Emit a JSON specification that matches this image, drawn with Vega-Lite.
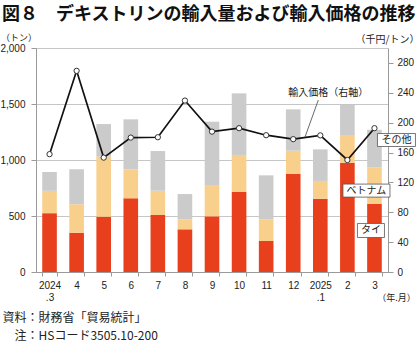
{
  "$schema": "https://vega.github.io/schema/vega-lite/v6.json",
  "width": 352,
  "height": 224,
  "autosize": "none",
  "padding": {"left": 36, "top": 48, "right": 32, "bottom": 75},
  "background": "white",
  "config": {
    "font": "Noto Sans CJK JP",
    "view": {"stroke": null},
    "axis": {
      "domainColor": "#9a9a9a",
      "tickColor": "#9a9a9a",
      "labelColor": "#222222",
      "labelFont": "Liberation Sans",
      "labelFontSize": 10,
      "labelOverlap": false,
      "titleFont": "Noto Sans CJK JP",
      "titleFontWeight": "normal",
      "titleColor": "#222222"
    }
  },
  "title": {
    "text": "図８　デキストリンの輸入量および輸入価格の推移",
    "anchor": "start",
    "frame": "group",
    "font": "Noto Sans CJK JP",
    "fontSize": 18,
    "fontWeight": "bold",
    "color": "#111111",
    "baseline": "bottom",
    "dx": -34,
    "offset": -8
  },
  "datasets": {
    "imports": [
      {"month": "2024.3", "country": "タイ", "k": 1, "tons": 525},
      {"month": "2024.3", "country": "ベトナム", "k": 2, "tons": 200},
      {"month": "2024.3", "country": "その他", "k": 3, "tons": 168},
      {"month": "4", "country": "タイ", "k": 1, "tons": 351},
      {"month": "4", "country": "ベトナム", "k": 2, "tons": 253},
      {"month": "4", "country": "その他", "k": 3, "tons": 313},
      {"month": "5", "country": "タイ", "k": 1, "tons": 494},
      {"month": "5", "country": "ベトナム", "k": 2, "tons": 536},
      {"month": "5", "country": "その他", "k": 3, "tons": 291},
      {"month": "6", "country": "タイ", "k": 1, "tons": 658},
      {"month": "6", "country": "ベトナム", "k": 2, "tons": 259},
      {"month": "6", "country": "その他", "k": 3, "tons": 446},
      {"month": "7", "country": "タイ", "k": 1, "tons": 509},
      {"month": "7", "country": "ベトナム", "k": 2, "tons": 217},
      {"month": "7", "country": "その他", "k": 3, "tons": 354},
      {"month": "8", "country": "タイ", "k": 1, "tons": 381},
      {"month": "8", "country": "ベトナム", "k": 2, "tons": 89},
      {"month": "8", "country": "その他", "k": 3, "tons": 226},
      {"month": "9", "country": "タイ", "k": 1, "tons": 497},
      {"month": "9", "country": "ベトナム", "k": 2, "tons": 280},
      {"month": "9", "country": "その他", "k": 3, "tons": 565},
      {"month": "10", "country": "タイ", "k": 1, "tons": 717},
      {"month": "10", "country": "ベトナム", "k": 2, "tons": 328},
      {"month": "10", "country": "その他", "k": 3, "tons": 550},
      {"month": "11", "country": "タイ", "k": 1, "tons": 277},
      {"month": "11", "country": "ベトナム", "k": 2, "tons": 193},
      {"month": "11", "country": "その他", "k": 3, "tons": 393},
      {"month": "12", "country": "タイ", "k": 1, "tons": 875},
      {"month": "12", "country": "ベトナム", "k": 2, "tons": 208},
      {"month": "12", "country": "その他", "k": 3, "tons": 369},
      {"month": "2025.1", "country": "タイ", "k": 1, "tons": 655},
      {"month": "2025.1", "country": "ベトナム", "k": 2, "tons": 158},
      {"month": "2025.1", "country": "その他", "k": 3, "tons": 282},
      {"month": "2", "country": "タイ", "k": 1, "tons": 976},
      {"month": "2", "country": "ベトナム", "k": 2, "tons": 247},
      {"month": "2", "country": "その他", "k": 3, "tons": 268},
      {"month": "3", "country": "タイ", "k": 1, "tons": 610},
      {"month": "3", "country": "ベトナム", "k": 2, "tons": 322},
      {"month": "3", "country": "その他", "k": 3, "tons": 338}
    ],
    "price": [
      {"month": "2024.3", "price": 157.8},
      {"month": "4", "price": 269.4},
      {"month": "5", "price": 153.2},
      {"month": "6", "price": 180.0},
      {"month": "7", "price": 180.5},
      {"month": "8", "price": 229.6},
      {"month": "9", "price": 188.0},
      {"month": "10", "price": 192.6},
      {"month": "11", "price": 183.2},
      {"month": "12", "price": 177.9},
      {"month": "2025.1", "price": 183.0},
      {"month": "2", "price": 150.0},
      {"month": "3", "price": 192.6}
    ]
  },
  "encoding": {
    "x": {
      "field": "month",
      "type": "nominal",
      "sort": ["2024.3", "4", "5", "6", "7", "8", "9", "10", "11", "12", "2025.1", "2", "3"],
      "scale": {"domain": ["2024.3", "4", "5", "6", "7", "8", "9", "10", "11", "12", "2025.1", "2", "3"], "paddingInner": 0.46, "paddingOuter": 0.23},
      "axis": {
        "title": ["資料：財務省「貿易統計」", "\u200b\u3000注：HSコード3505.10-200"],
        "titleFontSize": 12,
        "titleLineHeight": 18,
        "titleAnchor": "start",
        "titleAlign": "left",
        "titleBaseline": "top",
        "titleX": -34,
        "titleY": 40,
        "labelAngle": 0,
        "labelExpr": "datum.value == '2024.3' ? ['2024', '.3'] : datum.value == '2025.1' ? ['2025', '.1'] : datum.value",
        "labelLineHeight": 12.5,
        "labelBaseline": "top",
        "tickBand": "extent",
        "tickSize": 4,
        "labelPadding": 4
      }
    }
  },
  "layer": [
    {
      "data": {"name": "imports"},
      "mark": {"type": "bar"},
      "encoding": {
        "y": {
          "field": "tons",
          "type": "quantitative",
          "stack": "zero",
          "scale": {"domain": [0, 2000]},
          "axis": {
            "values": [0, 500, 1000, 1500, 2000],
            "format": ",.0f",
            "grid": true,
            "gridColor": "#c6c6c6",
            "title": "（トン）",
            "titleAngle": 0,
            "titleFontSize": 9,
            "titleAlign": "center",
            "titleBaseline": "middle",
            "titleX": -17.5,
            "titleY": -10.5,
            "tickSize": 5,
            "labelPadding": 6
          }
        },
        "color": {
          "field": "country",
          "type": "nominal",
          "scale": {"domain": ["タイ", "ベトナム", "その他"], "range": ["#e8401c", "#f9cf8c", "#cbcbcb"]},
          "legend": null
        },
        "order": {"field": "k", "type": "quantitative", "sort": "ascending"}
      }
    },
    {
      "encoding": {
        "y": {
          "field": "price",
          "type": "quantitative",
          "scale": {"domain": [0, 300], "nice": false},
          "axis": {
            "orient": "right",
            "values": [0, 40, 80, 120, 160, 200, 240, 280],
            "format": "d",
            "labelOverlap": false,
            "grid": false,
            "title": "（千円/トン）",
            "titleAngle": 0,
            "titleFontSize": 10,
            "titleAlign": "center",
            "titleBaseline": "middle",
            "titleX": -1,
            "titleY": -9,
            "tickSize": 5,
            "labelPadding": 4
          }
        }
      },
      "layer": [
        {
          "data": {"name": "price"},
          "mark": {"type": "line", "color": "#111111", "strokeWidth": 1.7}
        },
        {
          "data": {"name": "price"},
          "mark": {"type": "point", "filled": true, "fill": "white", "stroke": "#333333", "strokeWidth": 1, "size": 28, "opacity": 1}
        },
        {
          "data": {"values": [{"month": "2025.1", "month2": "12", "price": 230.3, "price2": 180.4}]},
          "mark": {"type": "rule", "color": "#444444", "strokeWidth": 0.8, "xOffset": -2, "x2Offset": 11.7},
          "encoding": {
            "x2": {"field": "month2"},
            "y2": {"field": "price2"}
          }
        },
        {
          "data": {"values": [{"month": "2025.1", "price": 240.4, "label": "輸入価格（右軸）"}]},
          "mark": {"type": "text", "fontSize": 10, "color": "#222222", "dx": 8, "align": "center", "baseline": "middle"},
          "encoding": {
            "text": {"field": "label"}
          }
        },
        {
          "data": {"values": [{"month": "3", "price": 176.8, "label": "その他"}]},
          "layer": [
            {"mark": {"type": "point", "shape": "M-1,-0.342L1,-0.342L1,0.342L-1,0.342Z", "size": 1444, "filled": true, "fill": "white", "stroke": "#555555", "strokeWidth": 0.8, "opacity": 1, "xOffset": 22}},
            {"mark": {"type": "text", "fontSize": 10, "color": "#222222", "dx": 22, "align": "center", "baseline": "middle"}, "encoding": {"text": {"field": "label"}}}
          ]
        },
        {
          "data": {"values": [{"month": "3", "price": 109.0, "label": "ベトナム"}]},
          "layer": [
            {"mark": {"type": "point", "shape": "M-1,-0.277L1,-0.277L1,0.277L-1,0.277Z", "size": 2209, "filled": true, "fill": "white", "stroke": "#555555", "strokeWidth": 0.8, "opacity": 1, "xOffset": -8}},
            {"mark": {"type": "text", "fontSize": 10, "color": "#222222", "dx": -8, "align": "center", "baseline": "middle"}, "encoding": {"text": {"field": "label"}}}
          ]
        },
        {
          "data": {"values": [{"month": "3", "price": 55.6, "label": "タイ"}]},
          "layer": [
            {"mark": {"type": "point", "shape": "M-1,-0.519L1,-0.519L1,0.519L-1,0.519Z", "size": 729, "filled": true, "fill": "white", "stroke": "#555555", "strokeWidth": 0.8, "opacity": 1, "xOffset": -3.5}},
            {"mark": {"type": "text", "fontSize": 10, "color": "#222222", "dx": -3.5, "align": "center", "baseline": "middle"}, "encoding": {"text": {"field": "label"}}}
          ]
        },
        {
          "data": {"values": [{"month": "3", "price": 0, "label": "（年.月）"}]},
          "mark": {"type": "text", "fontSize": 9, "color": "#222222", "dx": 22, "dy": 26, "align": "center", "baseline": "middle"},
          "encoding": {
            "text": {"field": "label"}
          }
        }
      ]
    }
  ],
  "resolve": {"scale": {"y": "independent"}}
}
